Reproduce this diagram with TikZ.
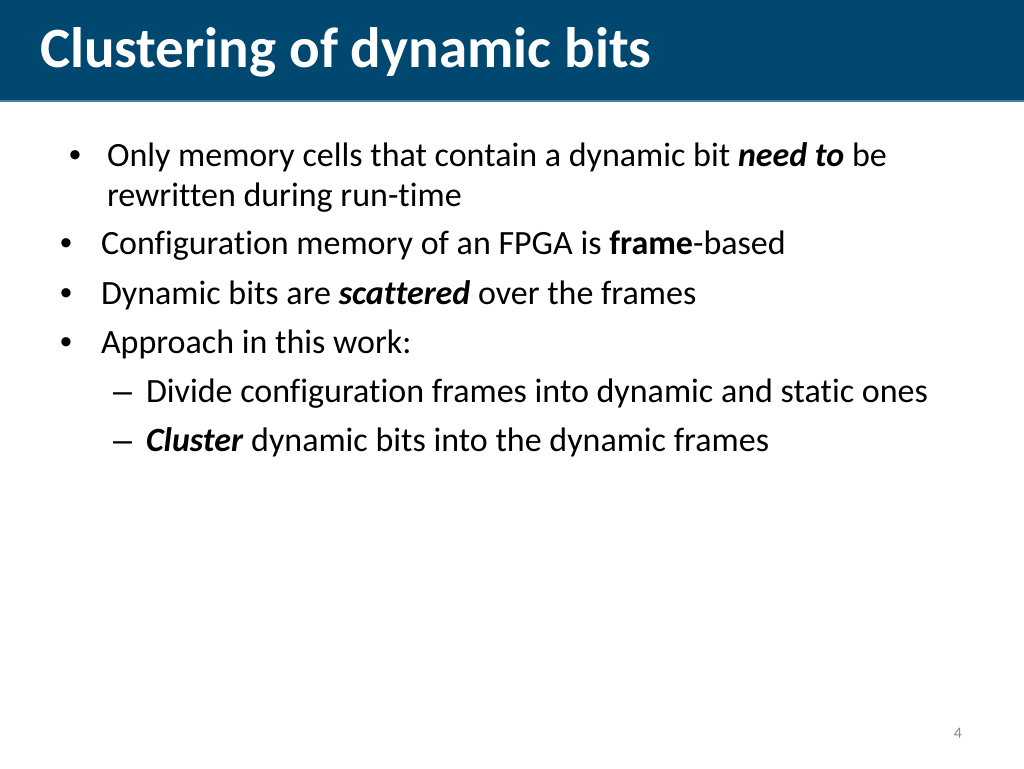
\documentclass[tikz,border=0pt]{standalone}
\usepackage{fontspec}
\setmainfont[Ligatures=NoCommon]{Carlito}
\newfontfamily\markfont{Liberation Sans}
\definecolor{titlebar}{HTML}{00486F}
\definecolor{titleline}{HTML}{4F7E9E}
\definecolor{pagegrey}{HTML}{8C8C8C}
\begin{document}
\begin{tikzpicture}[x=1pt,y=-1pt,
  every node/.style={inner sep=0pt,outer sep=0pt},
  bodytext/.style={anchor=base west,font=\fontsize{34}{40}\selectfont,text=black},
  markstyle/.style={anchor=base west,font=\markfont\fontsize{34}{40}\selectfont,text=black},
  titletext/.style={anchor=base west,font=\fontsize{57}{66}\selectfont\bfseries,text=white},
  pagenum/.style={anchor=base,font=\fontsize{16}{19}\selectfont,text=pagegrey}]
\useasboundingbox[fill=white] (0,0) rectangle (1024,768);
\fill[titlebar] (0,0) rectangle (1024,100);
\fill[titleline] (0,100) rectangle (1024,102);
\node[titletext] (title) at (40,67) {Clustering of dynamic bits};
% bullets
\node[markstyle] (b1) at (69,166) {•};
\node[bodytext] (t1) at (107,166) {Only memory cells that contain a dynamic bit \textbf{\itshape need to} be};
\node[bodytext] (t1b) at (107,206) {rewritten during run-time};
\node[markstyle] (b2) at (60,254) {•};
\node[bodytext] (t2) at (101,254) {Configuration memory of an FPGA is \textbf{frame}-based};
\node[markstyle] (b3) at (60,304) {•};
\node[bodytext] (t3) at (101,304) {Dynamic bits are \textbf{\itshape scattered} over the frames};
\node[markstyle] (b4) at (60,353) {•};
\node[bodytext] (t4) at (101,353) {Approach in this work:};
\node[markstyle] (d1) at (113,402) {–};
\node[bodytext] (s1) at (146,402) {Divide configuration frames into dynamic and static ones};
\node[markstyle] (d2) at (113,451) {–};
\node[bodytext] (s2) at (146,451) {\textbf{\itshape Cluster} dynamic bits into the dynamic frames};
\node[pagenum] (pg) at (958,738) {4};
\end{tikzpicture}
\end{document}
